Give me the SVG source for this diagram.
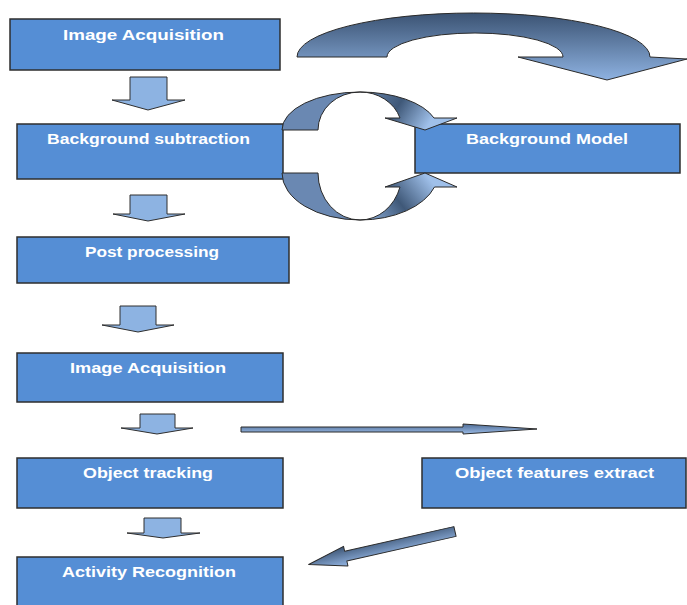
<svg xmlns="http://www.w3.org/2000/svg" width="687" height="605" viewBox="0 0 687 605">
<style>
.box{fill:#558ed5;stroke:#2e2e2e;stroke-width:1.5}
.lbl{fill:#ffffff;font-family:"Liberation Sans",Arial,sans-serif;font-weight:bold;font-size:14px;lengthAdjust:spacingAndGlyphs}
.down{fill:#8db3e2;stroke:#2e2e2e;stroke-width:1}
.edge{stroke:#2a2a2a;stroke-width:1;stroke-linejoin:round}
.cres{fill:#6a88b2}
</style>
<defs>
<linearGradient id="gBig" x1="0" y1="0" x2="0" y2="1">
<stop offset="0" stop-color="#3b5373"/>
<stop offset="1" stop-color="#8eb2e1"/>
</linearGradient>
<linearGradient id="gUp" gradientUnits="userSpaceOnUse" x1="365" y1="92" x2="425" y2="130">
<stop offset="0" stop-color="#6583ab"/>
<stop offset="0.5" stop-color="#3f5878"/>
<stop offset="1" stop-color="#9fc0ea"/>
</linearGradient>
<linearGradient id="gLow" gradientUnits="userSpaceOnUse" x1="365" y1="220" x2="425" y2="173">
<stop offset="0" stop-color="#8eb0dc"/>
<stop offset="0.5" stop-color="#3f5878"/>
<stop offset="1" stop-color="#9fc0ea"/>
</linearGradient>
<linearGradient id="gH" x1="0" y1="0" x2="0" y2="1">
<stop offset="0" stop-color="#4f6d96"/>
<stop offset="1" stop-color="#9bbbe6"/>
</linearGradient>
<linearGradient id="gD" x1="0" y1="0" x2="0" y2="1">
<stop offset="0" stop-color="#93b5e3"/>
<stop offset="1" stop-color="#3c5473"/>
</linearGradient>
</defs>

<g id="node-image-acquisition-1">
<rect class="box" x="10" y="19" width="270" height="51"/>
<text class="lbl" x="63" y="40" textLength="161" lengthAdjust="spacingAndGlyphs">Image Acquisition</text>
</g>
<g id="node-background-subtraction">
<rect class="box" x="17" y="124" width="266" height="55"/>
<text class="lbl" x="47" y="144" textLength="203" lengthAdjust="spacingAndGlyphs">Background subtraction</text>
</g>
<g id="node-background-model">
<rect class="box" x="415" y="124" width="265" height="49"/>
<text class="lbl" x="466" y="144" textLength="162" lengthAdjust="spacingAndGlyphs">Background Model</text>
</g>
<g id="node-post-processing">
<rect class="box" x="17" y="237" width="272" height="46"/>
<text class="lbl" x="85" y="257" textLength="134" lengthAdjust="spacingAndGlyphs">Post processing</text>
</g>
<g id="node-image-acquisition-2">
<rect class="box" x="17" y="353" width="266" height="49"/>
<text class="lbl" x="70" y="373" textLength="156" lengthAdjust="spacingAndGlyphs">Image Acquisition</text>
</g>
<g id="node-object-tracking">
<rect class="box" x="17" y="458" width="266" height="50"/>
<text class="lbl" x="83" y="478" textLength="130" lengthAdjust="spacingAndGlyphs">Object tracking</text>
</g>
<g id="node-object-features-extract">
<rect class="box" x="422" y="458" width="264" height="50"/>
<text class="lbl" x="455" y="478" textLength="199" lengthAdjust="spacingAndGlyphs">Object features extract</text>
</g>
<g id="node-activity-recognition">
<rect class="box" x="17" y="557" width="266" height="52"/>
<text class="lbl" x="62" y="577" textLength="174" lengthAdjust="spacingAndGlyphs">Activity Recognition</text>
</g>

<g id="connectors">
<polygon class="down" points="130,77 167,77 167,100 185,100 148,110 112,100 130,100"/>
<polygon class="down" points="130,195 167,195 167,214 185,214 148,221 113,214 130,214"/>
<polygon class="down" points="120,306 156,306 156,325 174,325 138,332 102,325 120,325"/>
<polygon class="down" points="140,414 175,414 175,428 193,428 157,434 121,428 140,428"/>
<polygon class="down" points="144,518 181,518 181,533 200,533 163,538 127,533 144,533"/>

<path class="edge" fill="url(#gBig)" d="M297,57 A176.5,44 0 0 1 650,57 L687,59 L607,80 L518,57 L563,57 A88,24 0 0 0 387,57 Z"/>

<path class="edge cres" d="M282,130 A78,38 0 0 1 360,92 A42,38 0 0 0 318,130 Z"/>
<path class="edge" fill="url(#gUp)" d="M360,92 A78,38 0 0 1 434,118 L457,118 L425,130 L385,118 L400,118 A42,38 0 0 0 360,92 Z"/>
<path class="edge cres" d="M282,173 A78,47 0 0 0 360,220 A42,47 0 0 1 318,173 Z"/>
<path class="edge" fill="url(#gLow)" d="M360,220 A78,47 0 0 0 434.5,187 L457,187 L425,173 L385,187 L400,187 A42,47 0 0 1 360,220 Z"/>

<polygon class="edge" fill="url(#gH)" points="241,427 463,427 463,424 537,429 463,434 463,432 241,432"/>

<polygon class="edge" fill="url(#gD)" transform="translate(455,531.5) rotate(167.3)" points="0,-5 112,-5 112,-10 150,0 112,10 112,5 0,5"/>
</g>
</svg>
